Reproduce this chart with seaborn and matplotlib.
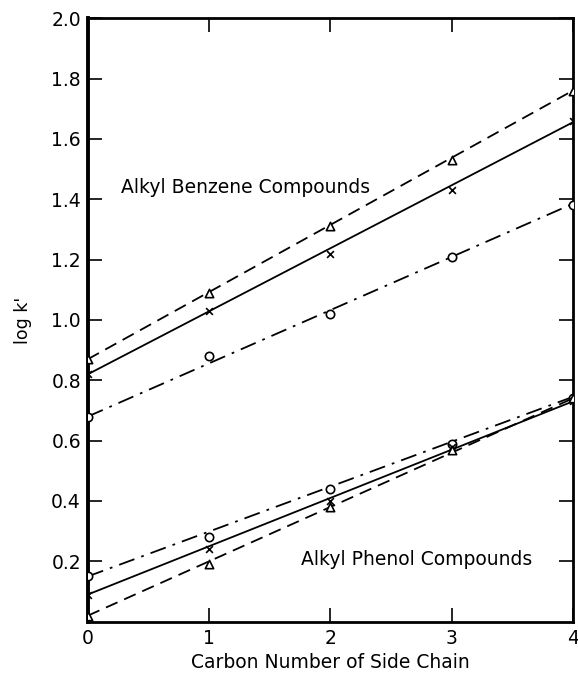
import matplotlib
matplotlib.use("Agg")
import matplotlib.pyplot as plt
import seaborn as sns
import pandas as pd

sns.set_theme(style="ticks")
plt.rcParams['font.family'] = ['DejaVu Sans']
plt.rcParams['text.color'] = 'black'
plt.rcParams['axes.labelcolor'] = 'black'
plt.rcParams['xtick.color'] = 'black'
plt.rcParams['ytick.color'] = 'black'

carbon = [0, 1, 2, 3, 4]
# Alkyl benzene data points
benz_tri = [0.87, 1.09, 1.31, 1.53, 1.76]
benz_x = [0.82, 1.03, 1.22, 1.43, 1.66]
benz_o = [0.68, 0.88, 1.02, 1.21, 1.38]
# Alkyl phenol data points
phen_o = [0.15, 0.28, 0.44, 0.59, 0.74]
phen_x = [0.09, 0.24, 0.40, 0.58, 0.73]
phen_tri = [0.02, 0.19, 0.38, 0.57, 0.74]
# Fitted line end points (x=0, x=4)
line_x = [0, 4]
benz_tri_line = [0.87, 1.76]
benz_x_line = [0.82, 1.655]
benz_o_line = [0.68, 1.385]
phen_o_line = [0.15, 0.745]
phen_x_line = [0.09, 0.73]
phen_tri_line = [0.02, 0.74]

fig = plt.figure(figsize=(5.78, 6.75), dpi=100)
ax = fig.add_axes([0.152, 0.079, 0.839, 0.894])

series = [
    (benz_tri, benz_tri_line, (0, (7, 4)), '^'),
    (benz_x, benz_x_line, '-', 'x'),
    (benz_o, benz_o_line, (0, (9, 4, 1.5, 4)), 'o'),
    (phen_o, phen_o_line, (0, (9, 4, 1.5, 4)), 'o'),
    (phen_x, phen_x_line, '-', 'x'),
    (phen_tri, phen_tri_line, (0, (7, 4)), '^'),
]

for pts, ln, ls, mk in series:
    dl = pd.DataFrame({'x': line_x, 'y': ln})
    sns.lineplot(data=dl, x='x', y='y', ax=ax, color='black', linewidth=1.3,
                 linestyle=ls)
    dp = pd.DataFrame({'x': carbon, 'y': pts})
    if mk == 'x':
        ax.scatter(dp['x'], dp['y'], marker='x', s=24, color='black', linewidths=1.2,
                   zorder=3)
    else:
        ax.scatter(dp['x'], dp['y'], marker=mk, s=36, facecolors='white',
                   edgecolors='black', linewidths=1.2, zorder=3)

ax.set_xlim(0, 4)
ax.set_ylim(0, 2.0)
ax.set_xticks([0, 1, 2, 3, 4])
ax.set_xticklabels(['0', '1', '2', '3', '4'])
yt = [0.2, 0.4, 0.6, 0.8, 1.0, 1.2, 1.4, 1.6, 1.8, 2.0]
ax.set_yticks(yt)
ax.set_yticklabels([f"{v:.1f}" for v in yt])
ax.tick_params(axis='both', direction='in', length=10, width=1.2, labelsize=13.5,
               top=True, right=True, pad=5, color='black', labelcolor='black')
for s in ax.spines.values():
    s.set_linewidth(2.0)
    s.set_color('black')
ax.spines['left'].set_linewidth(2.8)

ax.set_xlabel('Carbon Number of Side Chain', fontsize=13.5, labelpad=4, color='black')
ax.set_ylabel("log k'", fontsize=12.5, labelpad=14, color='black')

ax.text(0.27, 1.44, 'Alkyl Benzene Compounds', fontsize=13.5, ha='left', va='center',
        color='black')
ax.text(1.76, 0.205, 'Alkyl Phenol Compounds', fontsize=13.5, ha='left', va='center',
        color='black')

ax.grid(False)
fig.savefig('out.png', dpi=100)
